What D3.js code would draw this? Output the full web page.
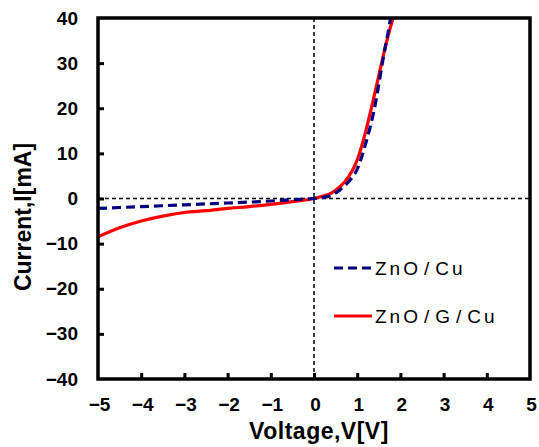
<!DOCTYPE html>
<html><head><meta charset="utf-8">
<script src="https://cdn.jsdelivr.net/npm/d3@7"></script>
<style>body{margin:0;background:#fff}svg{display:block}</style>
</head><body>
<script>
const voltage = [-5,-4.5,-4,-3.5,-3,-2.5,-2,-1.5,-1,-0.5,0,0.2,0.4,0.6,0.8,1.0,1.2,1.4,1.6,1.8,1.85];
const znoCu   = [-2.2,-2.0,-1.8,-1.6,-1.4,-1.2,-1.0,-0.8,-0.55,-0.25,0,0.2,0.7,1.9,3.7,6.5,12.3,20,31,42,46];
const znoGCu  = [-8.5,-6.5,-5.0,-3.9,-3.1,-2.7,-2.2,-1.8,-1.3,-0.7,0,0.5,1.2,2.6,4.8,8.5,15,23,31.5,39,40.5];
const xTicks = [-5,-4,-3,-2,-1,0,1,2,3,4,5];
const yTicks = [-40,-30,-20,-10,0,10,20,30,40];
const seriesNames = ["ZnO/Cu","ZnO/G/Cu"];

const W=539,H=447;
const L=98,R=530,T=18,B=379;
const FONT="Liberation Sans, Arial, sans-serif";
const svg=d3.select("body").append("svg").attr("width",W).attr("height",H);
const x=d3.scaleLinear().domain([-5,5]).range([L,R]);
const y=d3.scaleLinear().domain([-40,40]).range([B,T]);

svg.append("defs").append("clipPath").attr("id","clip")
  .append("rect").attr("x",L).attr("y",T).attr("width",R-L).attr("height",B-T);

// reference lines
svg.append("line").attr("x1",L).attr("x2",R).attr("y1",y(0)).attr("y2",y(0))
  .attr("stroke","#000").attr("stroke-width",1.5).attr("stroke-dasharray","4,3");
svg.append("line").attr("x1",x(0)).attr("x2",x(0)).attr("y1",T).attr("y2",B)
  .attr("stroke","#000").attr("stroke-width",1.5).attr("stroke-dasharray","4,3");

const line=d3.line().curve(d3.curveMonotoneX);
const g=svg.append("g").attr("clip-path","url(#clip)");
g.append("path").attr("d",line(voltage.map((v,i)=>[x(v),y(znoGCu[i])])))
  .attr("fill","none").attr("stroke","#ff0000").attr("stroke-width",3.2);
g.append("path").attr("d",line(voltage.map((v,i)=>[x(v),y(znoCu[i])])))
  .attr("fill","none").attr("stroke","#000080").attr("stroke-width",3.2).attr("stroke-dasharray","9,5");

// axes with inward ticks
const fmt=d=>d3.format("")(d).replace("-","\u2212");
const xa=d3.axisBottom(x).tickValues(xTicks).tickSize(-6).tickPadding(19).tickFormat(fmt);
const ya=d3.axisLeft(y).tickValues(yTicks).tickSize(-6).tickPadding(20).tickFormat(fmt);
const gx=svg.append("g").attr("transform",`translate(0,${B})`).call(xa);
const gy=svg.append("g").attr("transform",`translate(${L},0)`).call(ya);
[gx,gy].forEach(a=>{
  a.select(".domain").remove();
  a.selectAll(".tick line").attr("stroke","#000").attr("stroke-width",3);
  a.selectAll(".tick text").attr("font-family",FONT)
   .attr("font-size",19).attr("font-weight","bold").attr("fill","#000");
});
gx.selectAll(".tick text").attr("dx",1);
gx.selectAll(".tick").filter(d=>d===-5||d===5).select("line").remove();
gy.selectAll(".tick").filter(d=>d===-40||d===40).select("line").remove();

// frame
svg.append("rect").attr("x",L).attr("y",T).attr("width",R-L).attr("height",B-T)
  .attr("fill","none").attr("stroke","#000").attr("stroke-width",3.5);

// titles
svg.append("text").attr("x",319).attr("y",439).attr("text-anchor","middle")
  .attr("font-family",FONT).attr("font-size",23).attr("font-weight","bold")
  .attr("letter-spacing",0.5).text("Voltage,V[V]");
svg.append("text").attr("transform","translate(31,217) rotate(-90)").attr("text-anchor","middle")
  .attr("font-family",FONT).attr("font-size",23).attr("font-weight","bold")
  .text("Current,I[mA]");

// legend
const leg=[{name:seriesNames[0],color:"#000080",dash:"9,5",y:268},{name:seriesNames[1],color:"#ff0000",dash:null,y:316}];
leg.forEach(d=>{
  svg.append("line").attr("x1",334).attr("x2",372).attr("y1",d.y).attr("y2",d.y)
    .attr("stroke",d.color).attr("stroke-width",3.2).attr("stroke-dasharray",d.dash);
  const t=svg.append("text").attr("x",375).attr("y",d.y+7).attr("font-family",FONT)
    .attr("font-size",19).attr("letter-spacing",3);
  const parts=d.name.split("/");
  parts.forEach((p,i)=>{
    if(i>0) t.append("tspan").attr("dx",3).text("/");
    t.append("tspan").attr("dx",i>0?3:0).text(p);
  });
});
</script>
</body></html>
